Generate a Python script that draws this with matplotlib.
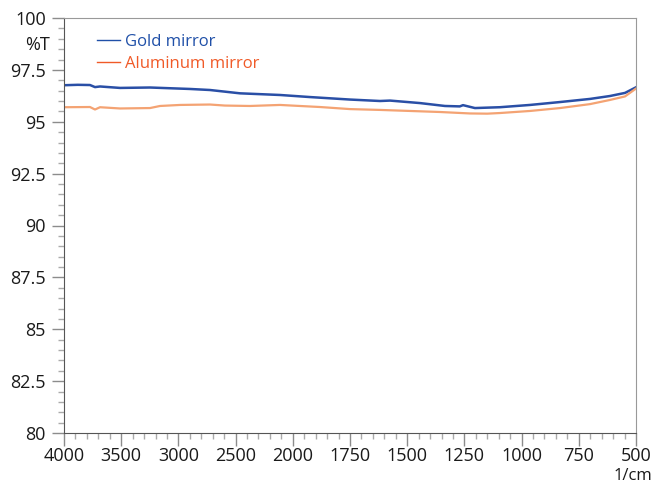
import numpy as np
import matplotlib.pyplot as plt
from matplotlib.lines import Line2D

plt.rcParams['font.family'] = ['Open Sans', 'DejaVu Sans']

# wavenumbers (1/cm) and %T
gold_wn = [4000, 3880, 3773, 3729, 3685, 3510, 3248, 3100, 2899, 2724, 2462, 2112,
           1925, 1750, 1619, 1575, 1444, 1335, 1270, 1256, 1204, 1095, 963, 832, 701,
           614, 548, 500]
gold_t = [96.76, 96.78, 96.77, 96.67, 96.70, 96.63, 96.65, 96.62, 96.58, 96.53, 96.37,
          96.29, 96.19, 96.07, 96.00, 96.02, 95.90, 95.76, 95.74, 95.80, 95.66, 95.70,
          95.81, 95.95, 96.10, 96.24, 96.39, 96.66]

alu_wn = [4000, 3773, 3729, 3685, 3510, 3248, 3161, 2986, 2724, 2593, 2374, 2112, 1969,
          1881, 1750, 1619, 1488, 1357, 1226, 1150, 1095, 963, 832, 701, 614, 548, 500]
alu_t = [95.70, 95.71, 95.59, 95.70, 95.64, 95.66, 95.76, 95.81, 95.83, 95.78, 95.76,
         95.81, 95.76, 95.71, 95.61, 95.57, 95.52, 95.47, 95.40, 95.39, 95.42, 95.52,
         95.66, 95.85, 96.05, 96.22, 96.60]

x_ticks = [4000, 3500, 3000, 2500, 2000, 1750, 1500, 1250, 1000, 750, 500]
y_ticks = [80, 82.5, 85, 87.5, 90, 92.5, 95, 97.5, 100]
y_labels = ['80', '82.5', '85', '87.5', '90', '92.5', '95', '97.5', '100']


def to_div(wn):
    # 500 per division above 2000, 250 per division below
    wn = np.asarray(wn, dtype=float)
    return np.where(wn >= 2000, (4000 - wn) / 500, 4 + (2000 - wn) / 250)


gold_c = '#2a4fa6'
alu_c = '#f4a373'
txt_c = '#1a1a1a'

fig = plt.figure(figsize=(6.54, 4.83), dpi=100)
ax = fig.add_axes([64 / 654, 1 - 433 / 483, 572 / 654, 415 / 483])

ax.plot(to_div(gold_wn), gold_t, color=gold_c, lw=1.8)
ax.plot(to_div(alu_wn), alu_t, color=alu_c, lw=1.6)

ax.set_xlim(0, 10)
ax.set_ylim(80, 100)
ax.set_xticks(to_div(x_ticks))
ax.set_xticklabels([str(t) for t in x_ticks])
ax.set_xticks(np.arange(0, 10.01, 0.2), minor=True)
ax.set_yticks(y_ticks)
ax.set_yticklabels(y_labels)
ax.set_yticks(np.arange(80, 100.01, 0.5), minor=True)

ax.tick_params(which='major', length=9, width=1, color='#8c8c8c', labelsize=13,
               labelcolor=txt_c)
ax.tick_params(axis='y', which='major', pad=4)
ax.tick_params(axis='x', which='major', pad=1)
ax.tick_params(which='minor', length=4, width=1, color='#aaaaaa')
for s in ['left', 'bottom']:
    ax.spines[s].set_color('#555555')
for s in ['top', 'right']:
    ax.spines[s].set_color('#999999')

fig.text(50 / 654, 1 - 45 / 483, '%T', ha='right', va='center', fontsize=13, color=txt_c)
fig.text(652 / 654, 1 - 476 / 483, '1/cm', ha='right', va='center', fontsize=12,
         color=txt_c)

handles = [Line2D([], [], color='#2050a8', lw=1),
           Line2D([], [], color='#f05a28', lw=1)]
leg = ax.legend(handles, ['Gold mirror', 'Aluminum mirror'], loc='upper left',
                bbox_to_anchor=(0.031, 0.998), frameon=False, fontsize=12,
                handlelength=1.4, handletextpad=0.3, labelspacing=0.38,
                labelcolor='linecolor')

fig.savefig('out.png', dpi=100)
